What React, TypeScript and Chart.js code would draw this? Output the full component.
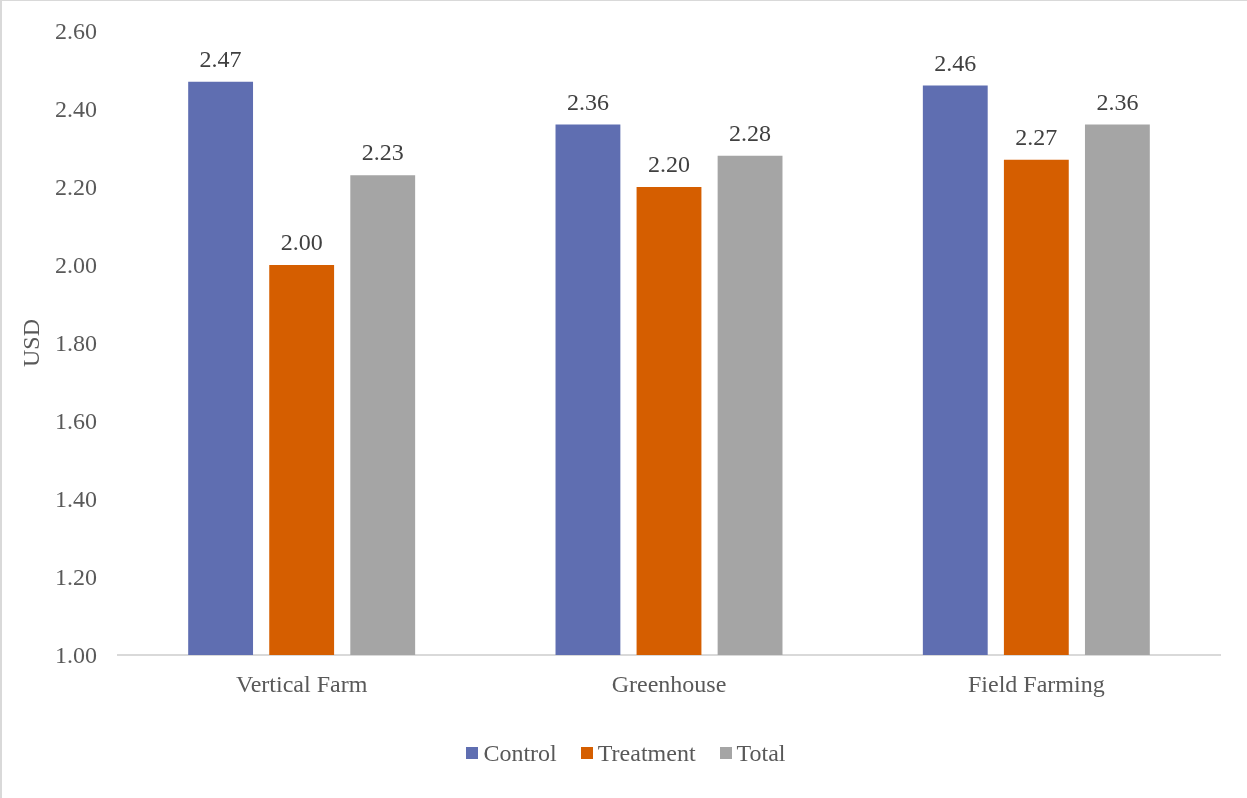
import React, { useEffect, useRef } from "react";
import { Chart, registerables } from "chart.js";

Chart.register(...registerables);

const categories = ["Vertical Farm", "Greenhouse", "Field Farming"];
const controlValues = [2.47, 2.36, 2.46];
const treatmentValues = [2.0, 2.2, 2.27];
const totalValues = [2.23, 2.28, 2.36];
const seriesNames = ["Control", "Treatment", "Total"];
const seriesColors = ["#5F6EB1", "#D55E00", "#A5A5A5"];
const yMin = 1.0;
const yMax = 2.6;
const yStep = 0.2;
const yTitle = "USD";

const FONT = "'Liberation Serif', 'Times New Roman', serif";
const TEXT = "#595959";
const SIZE = 24;

const dataLabelPlugin = {
  id: "dataLabels",
  afterDatasetsDraw(chart: any) {
    const ctx = chart.ctx;
    ctx.save();
    ctx.font = `${SIZE}px ${FONT}`;
    ctx.fillStyle = "#404040";
    ctx.textAlign = "center";
    ctx.textBaseline = "alphabetic";
    chart.data.datasets.forEach((ds: any, di: number) => {
      const meta = chart.getDatasetMeta(di);
      meta.data.forEach((el: any, i: number) => {
        const v = ds.data[i];
        ctx.fillText(Number(v).toFixed(2), el.x, el.y - 15);
      });
    });
    ctx.restore();
  },
};

export default function App() {
  const ref = useRef<HTMLCanvasElement | null>(null);
  useEffect(() => {
    if (!ref.current) return;
    const values = [controlValues, treatmentValues, totalValues];
    const chart = new Chart(ref.current, {
      type: "bar",
      data: {
        labels: categories,
        datasets: seriesNames.map((name, i) => ({
          label: name,
          data: values[i],
          backgroundColor: seriesColors[i],
          borderWidth: 0,
          barPercentage: 0.8,
          categoryPercentage: 0.662,
        })),
      },
      options: {
        animation: false,
        responsive: false,
        maintainAspectRatio: false,
        layout: { padding: { top: 31, right: 27, left: 0, bottom: 83 } },
        plugins: {
          legend: { display: false },
          tooltip: { enabled: false },
        },
        scales: {
          x: {
            grid: { display: false, drawTicks: false },
            border: { display: true, color: "#D9D9D9", width: 2 },
            ticks: {
              color: TEXT,
              font: { family: FONT, size: SIZE },
              padding: 16.6,
            },
            afterFit(scale: any) {
              scale.height = 60;
            },
          },
          y: {
            min: yMin,
            max: yMax,
            grid: { display: false, drawTicks: false },
            border: { display: false },
            ticks: {
              stepSize: yStep,
              color: TEXT,
              font: { family: FONT, size: SIZE },
              padding: 21,
              labelOffset: 2,
              callback: (v: any) => Number(v).toFixed(2),
            },
            title: {
              display: true,
              text: yTitle,
              color: TEXT,
              font: { family: FONT, size: SIZE },
              padding: { top: 18.6, bottom: 0 },
            },
            afterFit(scale: any) {
              scale.width = 118;
              scale.paddingTop = 0;
              scale.paddingBottom = 0;
            },
          },
        },
      },
      plugins: [dataLabelPlugin],
    });
    return () => chart.destroy();
  }, []);

  return (
    <div
      style={{
        position: "fixed",
        left: 0,
        top: 0,
        width: 1247,
        height: 798,
        background: "#fff",
      }}
    >
      <canvas ref={ref} width={1247} height={798} style={{ display: "block" }} />
      <div
        style={{
          position: "absolute",
          left: 0,
          top: 739,
          width: 1252,
          height: 28,
          display: "flex",
          justifyContent: "center",
          alignItems: "center",
          gap: 24,
          fontFamily: FONT,
          fontSize: SIZE,
          color: TEXT,
          lineHeight: "28px",
        }}
      >
        {seriesNames.map((name, i) => (
          <div key={name} style={{ display: "flex", alignItems: "center", gap: 5 }}>
            <span
              style={{
                display: "inline-block",
                width: 12,
                height: 12,
                background: seriesColors[i],
              }}
            />
            <span>{name}</span>
          </div>
        ))}
      </div>
      <div
        style={{
          position: "absolute",
          left: 0,
          top: 0,
          width: 1247,
          height: 798,
          boxSizing: "border-box",
          borderLeft: "2px solid #D9D9D9",
          borderTop: "1px solid #D9D9D9",
          pointerEvents: "none",
        }}
      />
    </div>
  );
}
